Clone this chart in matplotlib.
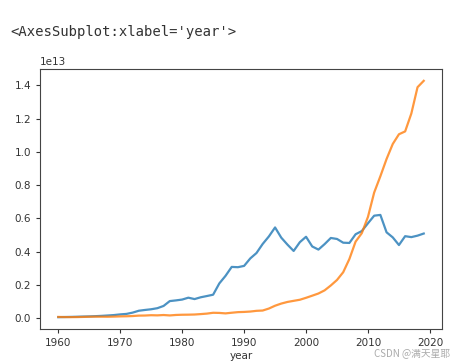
import matplotlib
matplotlib.use("Agg")
import matplotlib.pyplot as plt

years = list(range(1960, 2020))
japan = [0.0443, 0.0537, 0.0608, 0.0699, 0.0820, 0.0910, 0.1056, 0.1237, 0.1469, 0.1720,
         0.2127, 0.2405, 0.3181, 0.4320, 0.4795, 0.5213, 0.5862, 0.7212, 1.0135, 1.0555,
         1.1054, 1.2181, 1.1347, 1.2433, 1.3185, 1.3985, 2.0785, 2.5327, 3.0720, 3.0547,
         3.1327, 3.5841, 3.9088, 4.4545, 4.9070, 5.4491, 4.8334, 4.4148, 4.0323, 4.5620,
         4.8875, 4.3035, 4.1151, 4.4457, 4.8151, 4.7554, 4.5304, 4.5153, 5.0379, 5.2313,
         5.7001, 6.1575, 6.2032, 5.1557, 4.8504, 4.3895, 4.9227, 4.8667, 4.9548, 5.0818]
china = [0.0597, 0.0500, 0.0472, 0.0507, 0.0597, 0.0704, 0.0767, 0.0729, 0.0709, 0.0797,
         0.0926, 0.0996, 0.1137, 0.1385, 0.1442, 0.1632, 0.1539, 0.1746, 0.1495, 0.1783,
         0.1911, 0.1958, 0.2050, 0.2303, 0.2599, 0.3094, 0.3007, 0.2729, 0.3123, 0.3478,
         0.3609, 0.3834, 0.4269, 0.4447, 0.5643, 0.7345, 0.8637, 0.9617, 1.0290, 1.0940,
         1.2113, 1.3394, 1.4705, 1.6602, 1.9553, 2.2860, 2.7521, 3.5503, 4.5943, 5.1017,
         6.0872, 7.5515, 8.5322, 9.5704, 10.4757, 11.0617, 11.2333, 12.3104, 13.8948, 14.2799]

W, H = 454, 364
fig = plt.figure(figsize=(W / 100, H / 100), dpi=100)
left, right, top, bottom = 40, 442, 69, 329
ax = fig.add_axes([left / W, 1 - bottom / H, (right - left) / W, (bottom - top) / H])

ax.plot(years, [v * 1e12 for v in japan], color="#1f77b4", lw=1.6, alpha=0.8)
ax.plot(years, [v * 1e12 for v in china], color="#ff7f0e", lw=1.6, alpha=0.8)

ax.set_xticks([1960, 1970, 1980, 1990, 2000, 2010, 2020])
ax.tick_params(labelsize=7.5, colors="#333333", length=3)
ax.yaxis.get_offset_text().set_fontsize(7.5)
ax.yaxis.get_offset_text().set_color("#333333")
for s in ax.spines.values():
    s.set_color("#444444")
ax.set_xlabel("year", fontsize=7.5, color="#333333", labelpad=2)

fig.text(10 / W, 1 - 36 / H, "<AxesSubplot:xlabel='year'>", family="DejaVu Sans Mono",
         fontsize=10, color="#333333")
fig.text(450 / W, 1 - 356 / H, "CSDN @满天星耶", family=["Noto Sans CJK SC", "DejaVu Sans"],
         fontsize=7, color="#aaaaaa", ha="right")

fig.savefig("out.png", dpi=100)
